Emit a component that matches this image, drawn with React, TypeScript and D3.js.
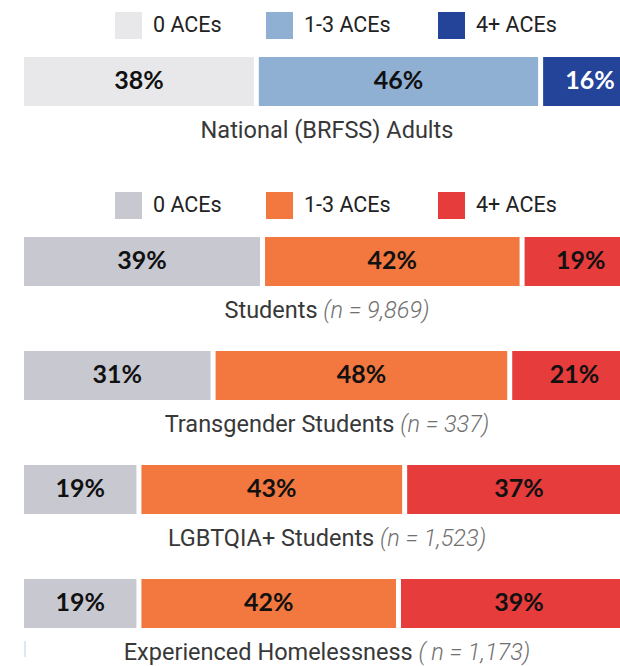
import { scaleLinear, scaleBand } from "d3";

// data
const categories = ["0 ACEs", "1-3 ACEs", "4+ ACEs"];
const nationalColors = ["#e8e8ea", "#8fb0d3", "#24449a"];
const studentColors = ["#c8c8d1", "#f27840", "#e63c3c"];

const nationalLabel = "National (BRFSS) Adults";
const nationalValues = [38, 46, 16];

const groups = ["Students", "Transgender Students", "LGBTQIA+ Students", "Experienced Homelessness"];
const sampleSizes = ["(n = 9,869)", "(n = 337)", "(n = 1,523)", "( n = 1,173)"];
const zeroAces = [39, 31, 19, 19];
const oneToThreeAces = [42, 48, 43, 42];
const fourPlusAces = [19, 21, 37, 39];

const width = 620;
const height = 666;
const gap = 5;
const barH = 49;
const legendX = [115, 266, 438];
const textFont = "Roboto, sans-serif";
const pctFont = "Lato, 'Open Sans', sans-serif";

const x = scaleLinear().domain([0, 100]).range([24, 642]);
const y = scaleBand<string>().domain(groups).range([237, 237 + 3 * 114 + barH]).paddingInner(1 - barH / 114).paddingOuter(0);

function Legend({ top, colors }: { top: number; colors: string[] }) {
  return (
    <g transform={`translate(0,${top})`}>
      {categories.map((c, i) => (
        <g key={c} transform={`translate(${legendX[i]},0)`}>
          <rect width={27} height={27} fill={colors[i]} />
          <text x={38} y={14.5} dominantBaseline="middle" fontFamily={textFont} fontSize={21.5} fill="#222">
            {c}
          </text>
        </g>
      ))}
    </g>
  );
}

function Bar({ top, values, colors, label, n }: { top: number; values: number[]; colors: string[]; label: string; n?: string }) {
  let cum = 0;
  const segs = values.map((v) => {
    const s = { x0: x(cum), x1: x(cum + v), v };
    cum += v;
    return s;
  });
  return (
    <g>
      {segs.map((s, i) => (
        <g key={i}>
          <rect x={s.x0} y={top} width={s.x1 - s.x0 - gap} height={barH} fill={colors[i]} />
          <text
            x={(s.x0 + s.x1 - gap) / 2}
            y={top + barH / 2 + 1}
            textAnchor="middle"
            dominantBaseline="middle"
            fontFamily={pctFont}
            fontWeight={700}
            fontSize={25}
            fill={colors[i] === "#24449a" ? "#fff" : "#111"}
          >
            {s.v}%
          </text>
        </g>
      ))}
      <text x={327} y={top + barH + 26} textAnchor="middle" dominantBaseline="middle" fontFamily={textFont} fontSize={23.5} fill="#383838">
        {label}
        {n && (
          <tspan fontStyle="italic" fontWeight={300} fill="#707070">
            {" " + n}
          </tspan>
        )}
      </text>
    </g>
  );
}

export default function App() {
  const last = groups[groups.length - 1];
  return (
    <svg width={width} height={height} style={{ position: "absolute", left: 0, top: 0, display: "block", background: "#fff" }}>
      <Legend top={12} colors={nationalColors} />
      <Bar top={57} values={nationalValues} colors={nationalColors} label={nationalLabel} />
      <Legend top={192} colors={studentColors} />
      {groups.map((g, i) => (
        <Bar
          key={g}
          top={y(g) ?? 0}
          values={[zeroAces[i], oneToThreeAces[i], fourPlusAces[i]]}
          colors={studentColors}
          label={g}
          n={sampleSizes[i]}
        />
      ))}
      <rect x={x(0)} y={(y(last) ?? 0) + barH + 13} width={2} height={16} fill="#dde6f3" />
    </svg>
  );
}
